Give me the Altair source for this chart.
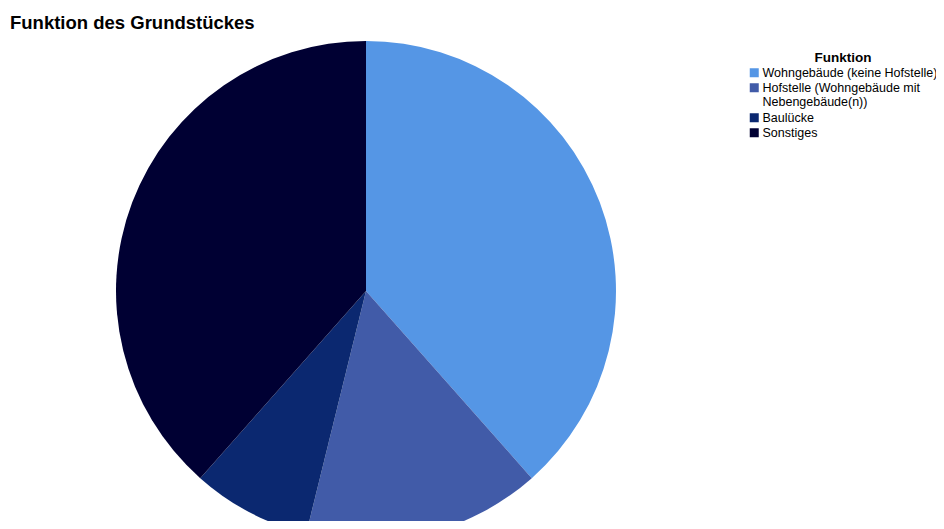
import altair as alt
import pandas as pd

categories = [
    "Wohngebäude (keine Hofstelle)",
    "Hofstelle (Wohngebäude mit Nebengebäude(n))",
    "Baulücke",
    "Sonstiges",
]
values = [5, 2, 1, 5]
order = [0, 1, 2, 3]
colors = ["#5596E5", "#415BA8", "#0B2870", "#000033"]

df = pd.DataFrame({"Funktion": categories, "Anzahl": values, "idx": order})

label_expr = (
    "datum.label == 'Hofstelle (Wohngebäude mit Nebengebäude(n))' ? "
    "['Hofstelle (Wohngebäude mit', 'Nebengebäude(n))'] : datum.label"
)

chart = (
    alt.Chart(df)
    .mark_arc(radius=250, stroke=None)
    .encode(
        theta=alt.Theta("Anzahl:Q", stack=True),
        order=alt.Order("idx:Q"),
        color=alt.Color(
            "Funktion:N",
            scale=alt.Scale(domain=categories, range=colors),
            sort=categories,
            legend=alt.Legend(
                title="Funktion",
                orient="none",
                legendX=740,
                legendY=3,
                titleAnchor="middle",
                titleFont="Liberation Sans",
                titleFontSize=13.5,
                titleFontWeight="bold",
                titleColor="#000000",
                titlePadding=2,
                labelFont="Liberation Sans",
                labelFontSize=12.5,
                labelColor="#000000",
                labelLimit=300,
                labelOffset=2,
                labelExpr=label_expr,
                symbolType="square",
                symbolSize=81,
                symbolStrokeWidth=0,
                rowPadding=2,
            ),
        ),
        x=alt.value(358),
        y=alt.value(243),
    )
    .properties(
        width=928,
        height=473,
        padding={"top": 40, "left": 0, "right": 0, "bottom": 0},
        autosize=alt.AutoSizeParams(type="none"),
        title=alt.TitleParams(
            "Funktion des Grundstückes",
            anchor="start",
            frame="group",
            font="Liberation Sans",
            fontSize=18.5,
            fontWeight="bold",
            color="#000000",
            dx=2,
            offset=9,
        ),
    )
    .configure_view(stroke=None)
)

chart.save("out.html", embed_options={"renderer": "svg", "actions": False})
